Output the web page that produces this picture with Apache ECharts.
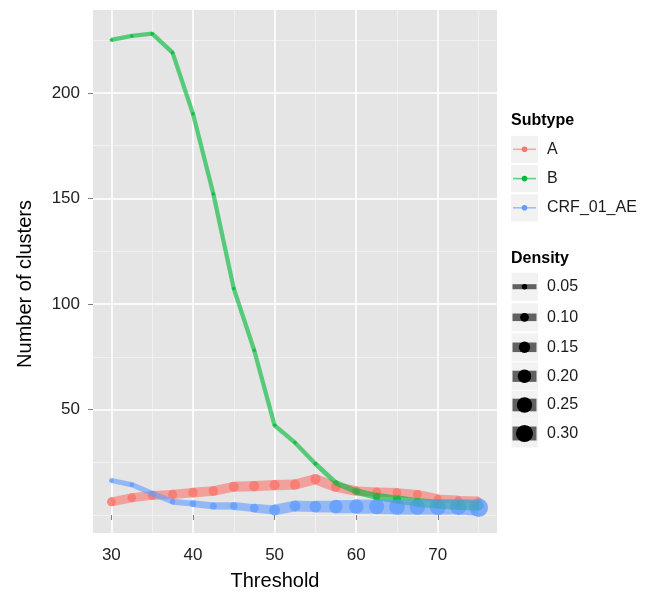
<!DOCTYPE html>
<html>
<head>
<meta charset="utf-8">
<script src="https://cdn.jsdelivr.net/npm/echarts@6/dist/echarts.min.js"></script>
<style>
html,body{margin:0;padding:0;background:#fff;}
#chart{width:649px;height:594px;}
</style>
</head>
<body>
<div id="chart"></div>
<script>
// ---- data ----
const thresholds = [30, 32.5, 35, 37.5, 40, 42.5, 45, 47.5, 50, 52.5, 55, 57.5, 60, 62.5, 65, 67.5, 70, 72.5, 75];
const subtypes = ['A', 'B', 'CRF_01_AE'];
const clustersA = [6.3, 8.2, 9.3, 9.8, 10.6, 11.4, 13.4, 13.7, 14.2, 14.4, 17.0, 13.3, 11.4, 10.9, 10.6, 9.8, 7.8, 7.4, 7.2];
const clustersB = [225.1, 227.0, 228.1, 219.1, 190.1, 152.1, 107.3, 78.1, 42.5, 34.3, 24.3, 15.3, 11.2, 8.8, 7.4, 6.0, 5.2, 4.8, 4.5];
const clustersC = [16.4, 14.4, 10.3, 6.3, 5.4, 4.3, 4.3, 3.3, 2.4, 4.3, 4.0, 4.0, 4.0, 4.0, 3.8, 3.8, 3.8, 4.0, 3.5];
const densityA = [0.1, 0.1, 0.1, 0.105, 0.115, 0.115, 0.125, 0.125, 0.125, 0.125, 0.125, 0.115, 0.105, 0.105, 0.1, 0.1, 0.08, 0.065, 0.05];
const densityB = [0.03, 0.03, 0.03, 0.03, 0.03, 0.03, 0.03, 0.03, 0.03, 0.03, 0.035, 0.045, 0.06, 0.075, 0.09, 0.1, 0.11, 0.12, 0.12];
const densityC = [0.04, 0.04, 0.045, 0.05, 0.065, 0.07, 0.08, 0.1, 0.14, 0.14, 0.16, 0.2, 0.225, 0.24, 0.255, 0.255, 0.27, 0.285, 0.35];
const xTicks = [30, 40, 50, 60, 70];
const xMinorTicks = [35, 45, 55, 65, 75];
const yTicks = [50, 100, 150, 200];
const yMinorTicks = [0, 25, 75, 125, 175, 225];
const densityBreaks = [0.05, 0.10, 0.15, 0.20, 0.25, 0.30];

// ---- styling ----
const colors = ['#F8766D', '#00BA38', '#619CFF'];
const FONT = '"Liberation Sans", Arial, Helvetica, sans-serif';
function dotSize(d) { return Math.max(3, -2.58 + 36 * Math.sqrt(d)); }
function lineW(d) { return Math.max(3.8, 0.9 * dotSize(d) + 1); }

const clusters = [clustersA, clustersB, clustersC];
const densities = [densityA, densityB, densityC];

const chart = echarts.init(document.getElementById('chart'), null, {renderer: 'canvas'});

const series = [];
// points first (below lines)
subtypes.forEach((name, k) => {
  series.push({
    type: 'scatter',
    name: name,
    xAxisIndex: 0, yAxisIndex: 0,
    z: 3,
    data: thresholds.map((t, i) => [t, clusters[k][i], densities[k][i]]),
    symbol: 'circle',
    symbolSize: v => dotSize(v[2]),
    itemStyle: {color: colors[k], opacity: 0.8},
    silent: true
  });
});
// lines on top, width varying with density per segment
subtypes.forEach((name, k) => {
  const segs = [];
  for (let i = 0; i < thresholds.length - 1; i++) {
    segs.push([thresholds[i], clusters[k][i], thresholds[i + 1], clusters[k][i + 1], densities[k][i]]);
  }
  series.push({
    type: 'custom',
    name: name + ' line',
    xAxisIndex: 0, yAxisIndex: 0,
    z: 4,
    silent: true,
    encode: {x: [0, 2], y: [1, 3]},
    data: segs,
    renderItem: function (params, api) {
      const p1 = api.coord([api.value(0), api.value(1)]);
      const p2 = api.coord([api.value(2), api.value(3)]);
      return {
        type: 'line',
        shape: {x1: p1[0], y1: p1[1], x2: p2[0], y2: p2[1]},
        style: {stroke: colors[k], lineWidth: lineW(api.value(4)), lineCap: 'butt', opacity: 0.62}
      };
    }
  });
});

// ---- legend via graphic ----
const graphic = [];
graphic.push({type: 'text', left: 511, top: 113, style: {text: 'Subtype', font: 'bold 16px ' + FONT, fill: '#000'}});
const subRows = [149.3, 178.6, 207.8];
subtypes.forEach((name, k) => {
  const cy = subRows[k];
  graphic.push({type: 'rect', shape: {x: 511, y: cy - 13.5, width: 27, height: 27}, style: {fill: '#F2F2F2'}});
  graphic.push({type: 'line', shape: {x1: 513, y1: cy, x2: 536, y2: cy}, style: {stroke: colors[k], lineWidth: 1.6, opacity: 0.6}});
  graphic.push({type: 'circle', shape: {cx: 524.5, cy: cy, r: 2.8}, style: {fill: colors[k]}});
  graphic.push({type: 'text', x: 547, y: cy, style: {text: name, font: '16px ' + FONT, fill: '#1a1a1a', verticalAlign: 'middle'}});
});
graphic.push({type: 'text', left: 511, top: 251, style: {text: 'Density', font: 'bold 16px ' + FONT, fill: '#000'}});
const denRows = [286.7, 317.3, 347.3, 376.3, 405, 433.5];
densityBreaks.forEach((b, k) => {
  const cy = denRows[k];
  graphic.push({type: 'rect', shape: {x: 511.5, y: cy - 14, width: 26.5, height: 28}, style: {fill: '#F2F2F2'}});
  graphic.push({type: 'line', shape: {x1: 512.5, y1: cy, x2: 536.5, y2: cy}, style: {stroke: '#000', lineWidth: Math.min(lineW(b) * 0.85, 16), opacity: 0.6}});
  graphic.push({type: 'circle', shape: {cx: 524.5, cy: cy, r: dotSize(b) / 2}, style: {fill: '#000'}});
  graphic.push({type: 'text', x: 547, y: cy, style: {text: b.toFixed(2), font: '16px ' + FONT, fill: '#1a1a1a', verticalAlign: 'middle'}});
});
// axis titles
graphic.push({type: 'text', x: 275, y: 581, style: {text: 'Threshold', font: '20px ' + FONT, fill: '#000', align: 'center', verticalAlign: 'middle'}});
graphic.push({type: 'text', x: 25, y: 284, rotation: Math.PI / 2, style: {text: 'Number of clusters', font: '20px ' + FONT, fill: '#000', align: 'center', verticalAlign: 'middle'}});

const option = {
  animation: false,
  backgroundColor: '#ffffff',
  grid: {left: 93, top: 10, right: 152, bottom: 61, show: true, backgroundColor: '#E5E5E5', borderWidth: 0, containLabel: false},
  xAxis: [
    {
      type: 'value', min: 27.75, max: 77.25, position: 'bottom',
      axisLine: {show: false},
      axisTick: {show: true, inside: false, length: 5, lineStyle: {color: '#7F7F7F', width: 1}, customValues: xTicks},
      axisLabel: {show: true, customValues: xTicks, margin: 14, fontSize: 17, fontFamily: FONT, color: '#222'},
      splitLine: {show: true, lineStyle: {color: '#FFFFFF', width: 1.6}},
      z: 1
    },
    {
      type: 'value', min: 27.75, max: 77.25, position: 'bottom',
      axisLine: {show: false},
      axisTick: {show: false, customValues: xMinorTicks},
      axisLabel: {show: false, customValues: xMinorTicks},
      splitLine: {show: true, lineStyle: {color: '#F2F2F2', width: 0.9}},
      z: 0
    }
  ],
  yAxis: [
    {
      type: 'value', min: -8.5, max: 239.3, position: 'left',
      axisLine: {show: false},
      axisTick: {show: true, inside: false, length: 5, lineStyle: {color: '#7F7F7F', width: 1}, customValues: yTicks},
      axisLabel: {show: true, customValues: yTicks, margin: 13, fontSize: 17, fontFamily: FONT, color: '#222'},
      splitLine: {show: true, lineStyle: {color: '#FFFFFF', width: 1.6}},
      z: 1
    },
    {
      type: 'value', min: -8.5, max: 239.3, position: 'left',
      axisLine: {show: false},
      axisTick: {show: false, customValues: yMinorTicks},
      axisLabel: {show: false, customValues: yMinorTicks},
      splitLine: {show: true, lineStyle: {color: '#F2F2F2', width: 0.9}},
      z: 0
    }
  ],
  series: series,
  graphic: graphic
};
chart.setOption(option);
</script>
</body>
</html>
